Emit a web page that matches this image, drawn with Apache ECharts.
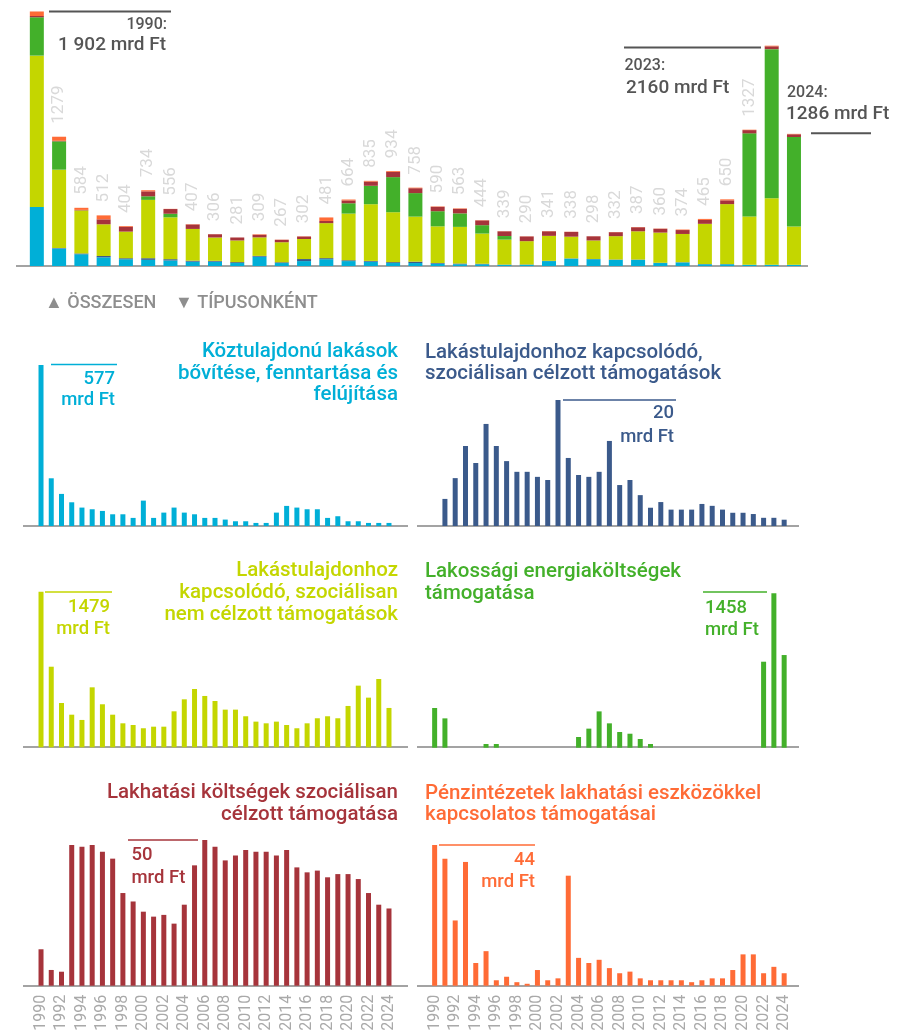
<!DOCTYPE html>
<html><head><meta charset="utf-8">
<script src="https://cdn.jsdelivr.net/npm/echarts@6/dist/echarts.min.js"></script>
<style>html,body{margin:0;padding:0;background:#fff}#c{width:901px;height:1036px}</style>
</head><body><div id="c"></div>
<script>
const years = ['1990','1991','1992','1993','1994','1995','1996','1997','1998','1999','2000','2001','2002','2003','2004','2005','2006','2007','2008','2009','2010','2011','2012','2013','2014','2015','2016','2017','2018','2019','2020','2021','2022','2023','2024'];
const publicHousing = [577,171,115,85,66,60,54,42,42,29,91,29,48,66,48,42,29,29,23,17,17,11,11,48,72,66,60,60,29,35,17,17,11,11,11];
const ownerTargeted = [0,4.3,7.6,12.7,10.0,16.2,12.7,10.3,8.6,8.6,7.8,7.3,20,10.8,8.1,7.8,8.6,13.5,6.5,7.3,4.9,2.9,3.8,2.6,2.6,2.6,3.5,3.2,2.6,2.1,2.1,1.9,1.3,1.3,1.0];
const ownerNonTargeted = [1479,766,421,310,260,570,409,310,228,212,181,196,196,342,456,554,488,440,358,358,295,244,228,244,212,181,228,276,295,276,393,586,472,649,374];
const energy = [375,277,0,0,0,35,35,0,0,0,0,0,0,0,101,180,343,230,148,132,82,35,0,0,0,0,0,0,0,0,0,0,812,1458,875];
const housingCost = [12.5,5.4,4.8,48.3,47.7,48.3,46.0,43.6,31.8,28.9,25.4,23.7,24.3,21.3,27.8,41.3,50,47.7,43.0,44.7,46.6,46.0,46.0,44.7,46.6,40.6,38.9,39.5,37.2,38.3,38.3,36.6,31.8,27.8,26.5];
const bankSupport = [44,39.7,20.4,38.7,7.1,10.8,1.7,2.8,1.1,0.6,4.9,1.7,2.3,34.4,8.7,7.1,8.1,5.5,3.9,4.4,2.3,1.7,1.7,1.7,1.7,1.1,1.7,2.3,2.3,4.9,9.8,9.8,3.9,5.9,3.9];
const totalLabels = [null,'1279','584','512','404','734','556','407','306','281','309','267','302','481','664','835','934','758','590','563','444','339','290','341','338','298','332','387','360','374','465','650','1327',null,null];
const seriesNames = ['Köztulajdonú lakások bővítése, fenntartása és felújítása','Lakástulajdonhoz kapcsolódó, szociálisan célzott támogatások','Lakástulajdonhoz kapcsolódó, szociálisan nem célzott támogatások','Lakossági energiaköltségek támogatása','Lakhatási költségek szociálisan célzott támogatása','Pénzintézetek lakhatási eszközökkel kapcsolatos támogatásai'];
const colors = ['#00afd7','#3b5a8b','#c4d600','#43b02a','#a6343b','#ff6b36'];
const FONT = 'Roboto, "Noto Sans", sans-serif';

const allSeries = [publicHousing, ownerTargeted, ownerNonTargeted, energy, housingCost, bankSupport];

const chart = echarts.init(document.getElementById('c'), null, {renderer:'canvas'});

const LX = 35.9, LW = 358.2, RX = 429.5, RW = 359.8;
const panels = [
  {left:LX, width:LW, top:365, height:161},
  {left:RX, width:RW, top:400, height:126},
  {left:LX, width:LW, top:591.7, height:155.6},
  {left:RX, width:RW, top:593.3, height:154.4},
  {left:LX, width:LW, top:840, height:145.7},
  {left:RX, width:RW, top:845, height:140.7}
];
const grid = [{left:25.7, width:779.4, top:10.2, height:255.8}].concat(panels);

const xAxis = grid.map((g,i)=>({
  type:'category', gridIndex:i, data:years, boundaryGap:true,
  axisLine:{show:false}, axisTick:{show:false},
  axisLabel: (i===5||i===6) ? {show:true, interval:1, rotate:90, color:'#a9a9a9', fontSize:16, fontFamily:FONT, margin:9} : {show:false}
}));
const yAxis = grid.map((g,i)=>({
  type:'value', gridIndex:i, min:0,
  max: i===0 ? 2500 : Math.max.apply(null, allSeries[i-1]),
  show:false, splitLine:{show:false}
}));

const series = [];
allSeries.forEach((arr,k)=>{
  const s = {
    type:'bar', name:seriesNames[k], xAxisIndex:0, yAxisIndex:0, stack:'total',
    data:arr, barWidth:14, itemStyle:{color:colors[k]}, silent:true
  };
  if(k===5){
    s.label = {show:true, position:'top', rotate:90, distance:13, align:'left', verticalAlign:'middle',
      color:'#d9d9d9', fontSize:17, fontFamily:FONT,
      formatter:p=> totalLabels[p.dataIndex] || ''};
  }
  series.push(s);
});
allSeries.forEach((arr,k)=>{
  series.push({type:'bar', name:seriesNames[k]+' ', xAxisIndex:k+1, yAxisIndex:k+1, data:arr, barWidth:5,
    itemStyle:{color:colors[k]}, silent:true});
});

function line(x1,y1,x2,y2,c,w){return {type:'line', shape:{x1,y1,x2,y2}, style:{stroke:c, lineWidth:w}, silent:true};}
function txt(x,y,t,c,size,align,weight,lh){return {type:'text', x, y, silent:true,
  style:{text:t, fill:c, fontSize:size, fontFamily:FONT, fontWeight:weight||500, align:align||'left', verticalAlign:'middle', lineHeight:lh||undefined}};}

const AX = '#a3a3a3', DG = '#555555';
const TS = 20.5, NS = 18.5;
const graphic = [
  line(16,266,808,266,AX,2),
  line(23,526,408,526,AX,2), line(417,526,799,526,AX,2),
  line(23,747,408,747,AX,2), line(417,747,799,747,AX,2),
  line(23,986,408,986,AX,2), line(417,986,799,986,AX,2),
  line(49,11.5,171,11.5,DG,2),
  txt(167,25,'1990:',DG,16,'right'),
  txt(166,45.7,'1 902 mrd Ft',DG,19,'right'),
  line(624,47.5,761,47.5,DG,2),
  txt(624.5,65.7,'2023:',DG,16,'left'),
  txt(626,88.3,'2160 mrd Ft',DG,19,'left'),
  txt(787,93.3,'2024:',DG,16,'left'),
  txt(786,114.3,'1286 mrd Ft',DG,19,'left'),
  line(811,133.3,871,133.3,DG,2),
  txt(45,303,'▲ ÖSSZESEN',"#8e8e8e",18,'left'),
  txt(175,303,'▼ TÍPUSONKÉNT',"#8e8e8e",18,'left'),
  txt(398,373.4,'Köztulajdonú lakások\nbővítése, fenntartása és\nfelújítása',colors[0],TS,'right',500,21.7),
  txt(425,363.5,'Lakástulajdonhoz kapcsolódó,\nszociálisan célzott támogatások',colors[1],TS,'left',500,21.5),
  txt(398,593,'Lakástulajdonhoz\nkapcsolódó, szociálisan\nnem célzott támogatások',colors[2],TS,'right',500,21.7),
  txt(425,583,'Lakossági energiaköltségek\ntámogatása',colors[3],TS,'left',500,21.5),
  txt(398,804,'Lakhatási költségek szociálisan\ncélzott támogatása',colors[4],TS,'right',500,22),
  txt(425,804.5,'Pénzintézetek lakhatási eszközökkel\nkapcsolatos támogatásai',colors[5],TS,'left',500,21.5),
  line(51,364.5,117,364.5,colors[0],1.5),
  txt(115,379.3,'577',colors[0],NS,'right'), txt(115,400.7,'mrd Ft',colors[0],NS,'right'),
  line(563,400,676,400,colors[1],1.5),
  txt(674,413.5,'20',colors[1],NS,'right'), txt(674,437,'mrd Ft',colors[1],NS,'right'),
  line(45,592,112,592,colors[2],1.5),
  txt(110,607.8,'1479',colors[2],NS,'right'), txt(110,629.7,'mrd Ft',colors[2],NS,'right'),
  line(703,592,767,592,colors[3],1.5),
  txt(705,608.3,'1458',colors[3],NS,'left'), txt(705,630,'mrd Ft',colors[3],NS,'left'),
  line(128,840,198,840,colors[4],1.5),
  txt(131.5,855.7,'50',colors[4],NS,'left'), txt(131.5,878.3,'mrd Ft',colors[4],NS,'left'),
  line(439,845,535,845,colors[5],1.5),
  txt(535,860.3,'44',colors[5],NS,'right'), txt(535,882,'mrd Ft',colors[5],NS,'right')
];

chart.setOption({
  animation:false,
  backgroundColor:'#ffffff',
  textStyle:{fontFamily:FONT},
  grid, xAxis, yAxis, series, graphic
});
</script></body></html>
